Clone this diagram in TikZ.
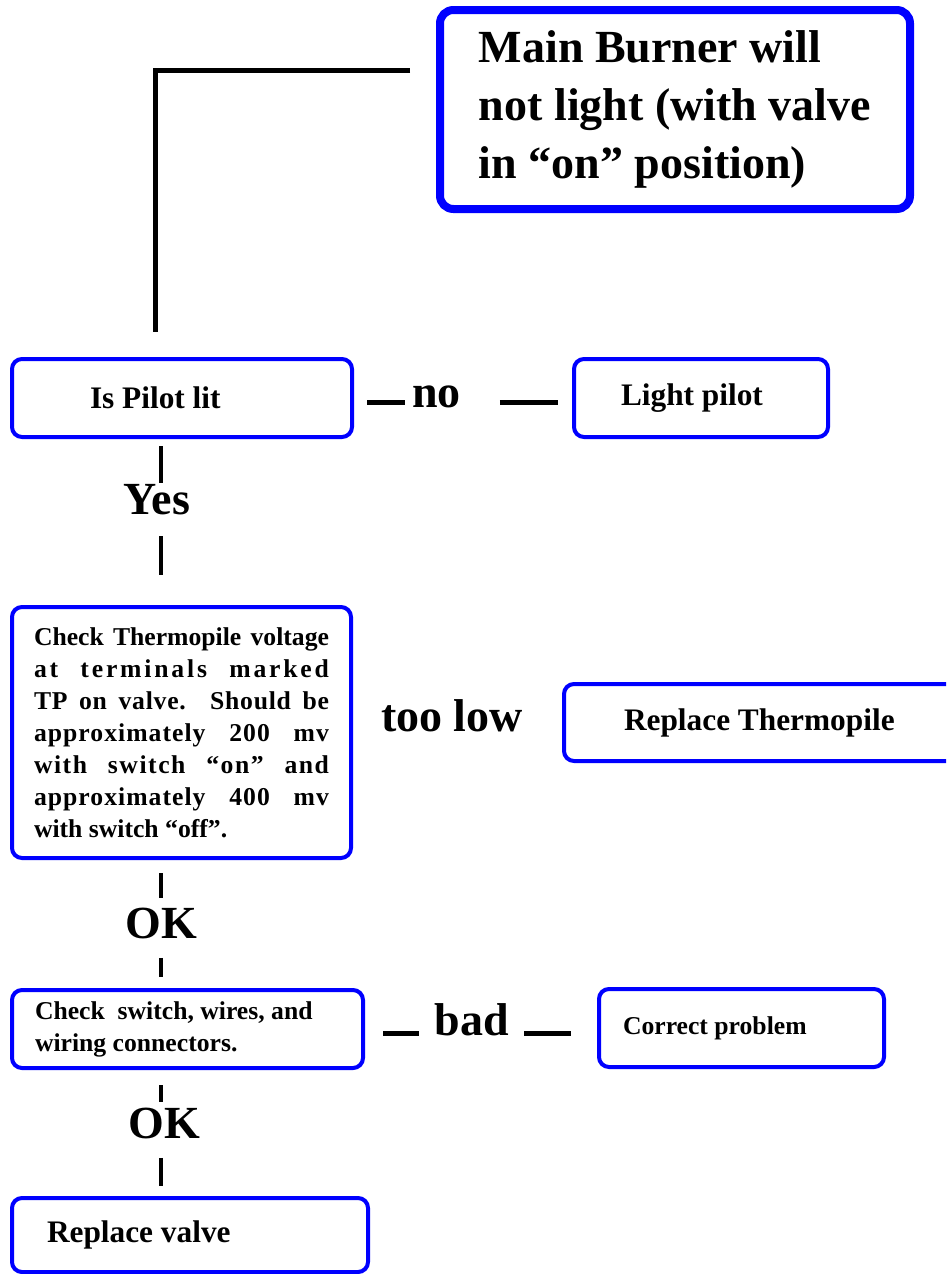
\documentclass[tikz,border=0pt]{standalone}
\usepackage{fontspec}
\setmainfont{Liberation Serif}
\newcommand{\fullline}[2][0]{\makebox[221.25pt][s]{\addfontfeature{LetterSpace=#1}\spaceskip=.25em plus 1em\relax #2}}
\begin{document}
\begin{tikzpicture}[x=0.75pt, y=-0.75pt,
  box/.style={draw=blue, line width=3pt, rounded corners=7.5pt, inner sep=0pt, outer sep=0pt, align=flush left},
  big/.style={font=\bfseries\fontsize{34.5}{43.5}\selectfont, inner sep=0pt, outer sep=0pt},
  fa/.style={font=\bfseries\fontsize{23.5}{28}\selectfont},
  fb/.style={font=\bfseries\fontsize{19.25}{24}\selectfont},
  bar/.style={line width=3pt},
  dashbar/.style={line width=3.75pt}]
  \useasboundingbox (0,0) rectangle (946,1274);
  \clip (0,0) rectangle (946,1274);
  % boxes
  \node[box, big, line width=6pt, rounded corners=10pt, minimum width=352.5pt, minimum height=149.25pt] (title) at (675,109.5) {Main Burner will\\not light (with valve\\in “on” position)};
  \node[box, fa, text width=138pt, minimum width=255pt, minimum height=58.5pt] (pilot) at (182,398) {Is Pilot lit};
  \node[box, fa, text width=120pt, minimum width=190.5pt, minimum height=58.5pt] (light) at (701,398) {Light pilot};
  \node[box, fb, text width=221.25pt, minimum width=254.25pt, minimum height=188.25pt] (thermo) at (181.5,732.5) {\fullline{Check Thermopile voltage}\\\fullline[11]{at terminals marked}\\\fullline[3]{TP on valve. Should be}\\\fullline[4]{approximately 200 mv}\\\fullline[6]{with switch “on” and}\\\fullline[4]{approximately 400 mv}\\with switch “off”.};
  \node[box, fa, text width=237pt, minimum width=327pt, minimum height=57.75pt] (replt) at (782,722.5) {Replace Thermopile};
  \node[box, fb, text width=228.75pt, minimum width=263.25pt, minimum height=58.5pt] (switch) at (187.5,1029) {Check\ \ switch, wires, and\\wiring connectors.};
  \node[box, fb, text width=177.75pt, minimum width=213.75pt, minimum height=58.5pt] (fix) at (741.5,1028) {Correct problem};
  \node[box, fa, text width=214.5pt, minimum width=267pt, minimum height=55.5pt] (valve) at (190,1235) {Replace valve};
  % labels
  \node[big] (no) at (436.5,397) {no};
  \node[big] (yes) at (157,500) {Yes};
  \node[big] (low) at (452,716) {too low};
  \node[big] (ok1) at (161,923) {OK};
  \node[big] (bad) at (472,1020) {bad};
  \node[big] (ok2) at (164,1123) {OK};
  % connectors
  \coordinate (top) at (155,70);
  \draw[dashbar, shorten <=22.5pt, shorten >=20.25pt] (title.west |- top) -- (top) -- (top |- pilot.north);
  \draw[dashbar, shorten <=11.25pt, shorten >=5.25pt] ([yshift=-3pt]pilot.east) -- ([yshift=-3pt]pilot.east -| no.west);
  \draw[dashbar, shorten <=29.25pt, shorten >=12pt] ([yshift=-3pt]pilot.east -| no.east) -- ([yshift=-3pt]pilot.east -| light.west);
  \draw[bar, shorten <=6.75pt, shorten >=1.5pt] ([xshift=3pt]pilot.south -| yes.north) -- ([xshift=3pt]yes.north);
  \draw[bar, shorten <=15.75pt, shorten >=24pt] ([xshift=3pt]yes.south) -- ([xshift=3pt]yes.south |- thermo.north);
  \draw[bar, shorten <=11.25pt, shorten >=7pt] (thermo.south -| ok1.north) -- (ok1.north);
  \draw[bar, shorten <=14.6pt, shorten >=9.75pt] (ok1.south) -- (ok1.south |- switch.north);
  \draw[dashbar, shorten <=15pt, shorten >=12pt] ([yshift=-3pt]switch.east) -- ([yshift=-3pt]switch.east -| bad.west);
  \draw[dashbar, shorten <=11.25pt, shorten >=21pt] ([yshift=-3pt]switch.east -| bad.east) -- ([yshift=-3pt]switch.east -| fix.west);
  \draw[bar, shorten <=12.75pt, shorten >=4pt] ([xshift=-2.25pt]switch.south -| ok2.north) -- ([xshift=-2.25pt]ok2.north);
  \draw[bar, shorten <=14.6pt, shorten >=9pt] ([xshift=-2.25pt]ok2.south) -- ([xshift=-2.25pt]ok2.south |- valve.north);
\end{tikzpicture}
\end{document}
